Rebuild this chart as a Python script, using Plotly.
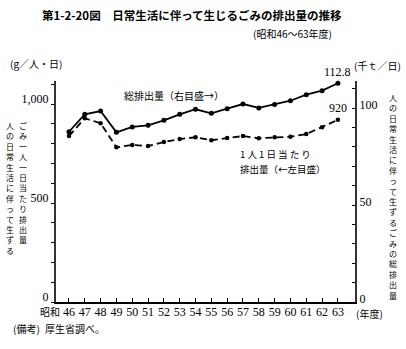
import plotly.graph_objects as go

# Fiscal years (Showa era)
years = [46, 47, 48, 49, 50, 51, 52, 53, 54, 55, 56, 57, 58, 59, 60, 61, 62, 63]
year_labels = [str(y) for y in years]

# Total municipal waste discharged (thousand t / day) - right axis
total_kt = [87.8, 96.8, 98.5, 87.5, 90.3, 91.1, 93.7, 96.8, 99.4, 97.3,
            99.7, 102.1, 100.1, 101.8, 103.8, 106.9, 109.0, 112.8]

# Waste per person per day (g / person / day) - left axis
per_capita_g = [838, 928, 903, 781, 793, 788, 808, 823, 832, 817,
                828, 838, 827, 832, 835, 848, 882, 920]

left_ticks = list(range(0, 1101, 100))
left_ticktext = ["0", "", "", "", "", "500", "", "", "", "", "1,000", ""]
right_ticks = list(range(0, 111, 10))
right_ticktext = ["0", "", "", "", "", "50", "", "", "", "", "100", ""]

W, H = 406, 349
L, R, T, B = 56, 51, 81, 47
PW, PH = W - L - R, H - T - B

JP = "Noto Sans CJK JP"
NUM = "Liberation Serif"


def px(x):
    return (x - L) / PW


def py(y):
    return (H - B - y) / PH


fig = go.Figure()

fig.add_trace(go.Scatter(
    x=years, y=total_kt, yaxis="y2", mode="lines+markers",
    line=dict(color="black", width=1.8),
    marker=dict(color="black", size=5),
    cliponaxis=False, showlegend=False,
))
fig.add_trace(go.Scatter(
    x=years, y=per_capita_g, yaxis="y", mode="lines+markers",
    line=dict(color="black", width=1.8, dash="7px,4px"),
    marker=dict(color="black", size=4.5),
    cliponaxis=False, showlegend=False,
))

ann = []


def text(s, x, y, size=10, xanchor="center", yanchor="middle", family=JP, bold=False):
    ann.append(dict(
        text=f"<b>{s}</b>" if bold else s, x=px(x), y=py(y),
        xref="paper", yref="paper", showarrow=False,
        xanchor=xanchor, yanchor=yanchor,
        font=dict(family=family, size=size, color="black"),
    ))


def vertical(s, x, y_top, size=8):
    # one character per line, stacked top-down
    text("<br>".join(s), x, y_top, size=size, yanchor="top")


# Title block
text("第1-2-20図　日常生活に伴って生じるごみの排出量の推移", 192, 15, size=11.5, bold=True)
text("(昭和46～63年度)", 334, 33, size=10, xanchor="right")

# Axis units
text("(g／人・日)", 8, 63, size=10, xanchor="left")
text("(千ｔ／日)", 352, 65, size=10, xanchor="left")

# Vertical axis titles
vertical("人の日常生活に伴って生ずる", 10, 118)
vertical("ごみ一人一日当たり排出量", 23, 118)
vertical("人の日常生活に伴って生ずるごみの総排出量", 393, 90)

# Series labels
text("総排出量（右目盛→）", 122, 95, size=10, xanchor="left")
text("1 人 1 日 当 た り", 238, 154, size=9.5, xanchor="left")
text("排出量（←左目盛）", 238, 168.5, size=9.5, xanchor="left")

# End-point values
ann.append(dict(x=years[-1], y=total_kt[-1], xref="x", yref="y2",
                text=f"{total_kt[-1]:.1f}", showarrow=False, yshift=11,
                font=dict(family=NUM, size=12, color="black")))
ann.append(dict(x=years[-1], y=per_capita_g[-1], xref="x", yref="y",
                text=f"{per_capita_g[-1]}", showarrow=False, yshift=12,
                font=dict(family=NUM, size=12, color="black")))

# x-axis extras
text("昭和", 50, 311, size=10)
text("(年度)", 369, 313, size=10)

# Source note
text("(備考)", 11, 328, size=10, xanchor="left")
text("厚生省調べ。", 43, 328, size=10, xanchor="left")

fig.update_layout(
    width=W, height=H,
    margin=dict(l=L, r=R, t=T, b=B, pad=0),
    paper_bgcolor="white", plot_bgcolor="white",
    annotations=ann,
    xaxis=dict(
        range=[45.18, 64.08], tickvals=years, ticktext=year_labels,
        showline=True, linecolor="black", linewidth=1.5,
        ticks="inside", ticklen=4, tickcolor="black",
        ticklabelstandoff=-2,
        showgrid=False, zeroline=False, automargin=False,
        tickfont=dict(family=NUM, size=12, color="black"),
    ),
    yaxis=dict(
        range=[0, PH / 0.198], tickvals=left_ticks, ticktext=left_ticktext,
        showline=True, linecolor="#333", linewidth=2,
        ticks="outside", ticklen=3, tickcolor="black",
        ticklabelshift=-5,
        showgrid=False, zeroline=False, automargin=False,
        tickfont=dict(family=NUM, size=12, color="black"),
    ),
    yaxis2=dict(
        range=[0, PH / 1.939], tickvals=right_ticks, ticktext=right_ticktext,
        overlaying="y", side="right", anchor="x",
        showline=True, linecolor="#333", linewidth=2,
        ticks="inside", ticklen=3, tickcolor="black",
        ticklabelshift=-3,
        showgrid=False, zeroline=False, automargin=False,
        tickfont=dict(family=NUM, size=12, color="black"),
    ),
)

fig.write_html("out.html")
